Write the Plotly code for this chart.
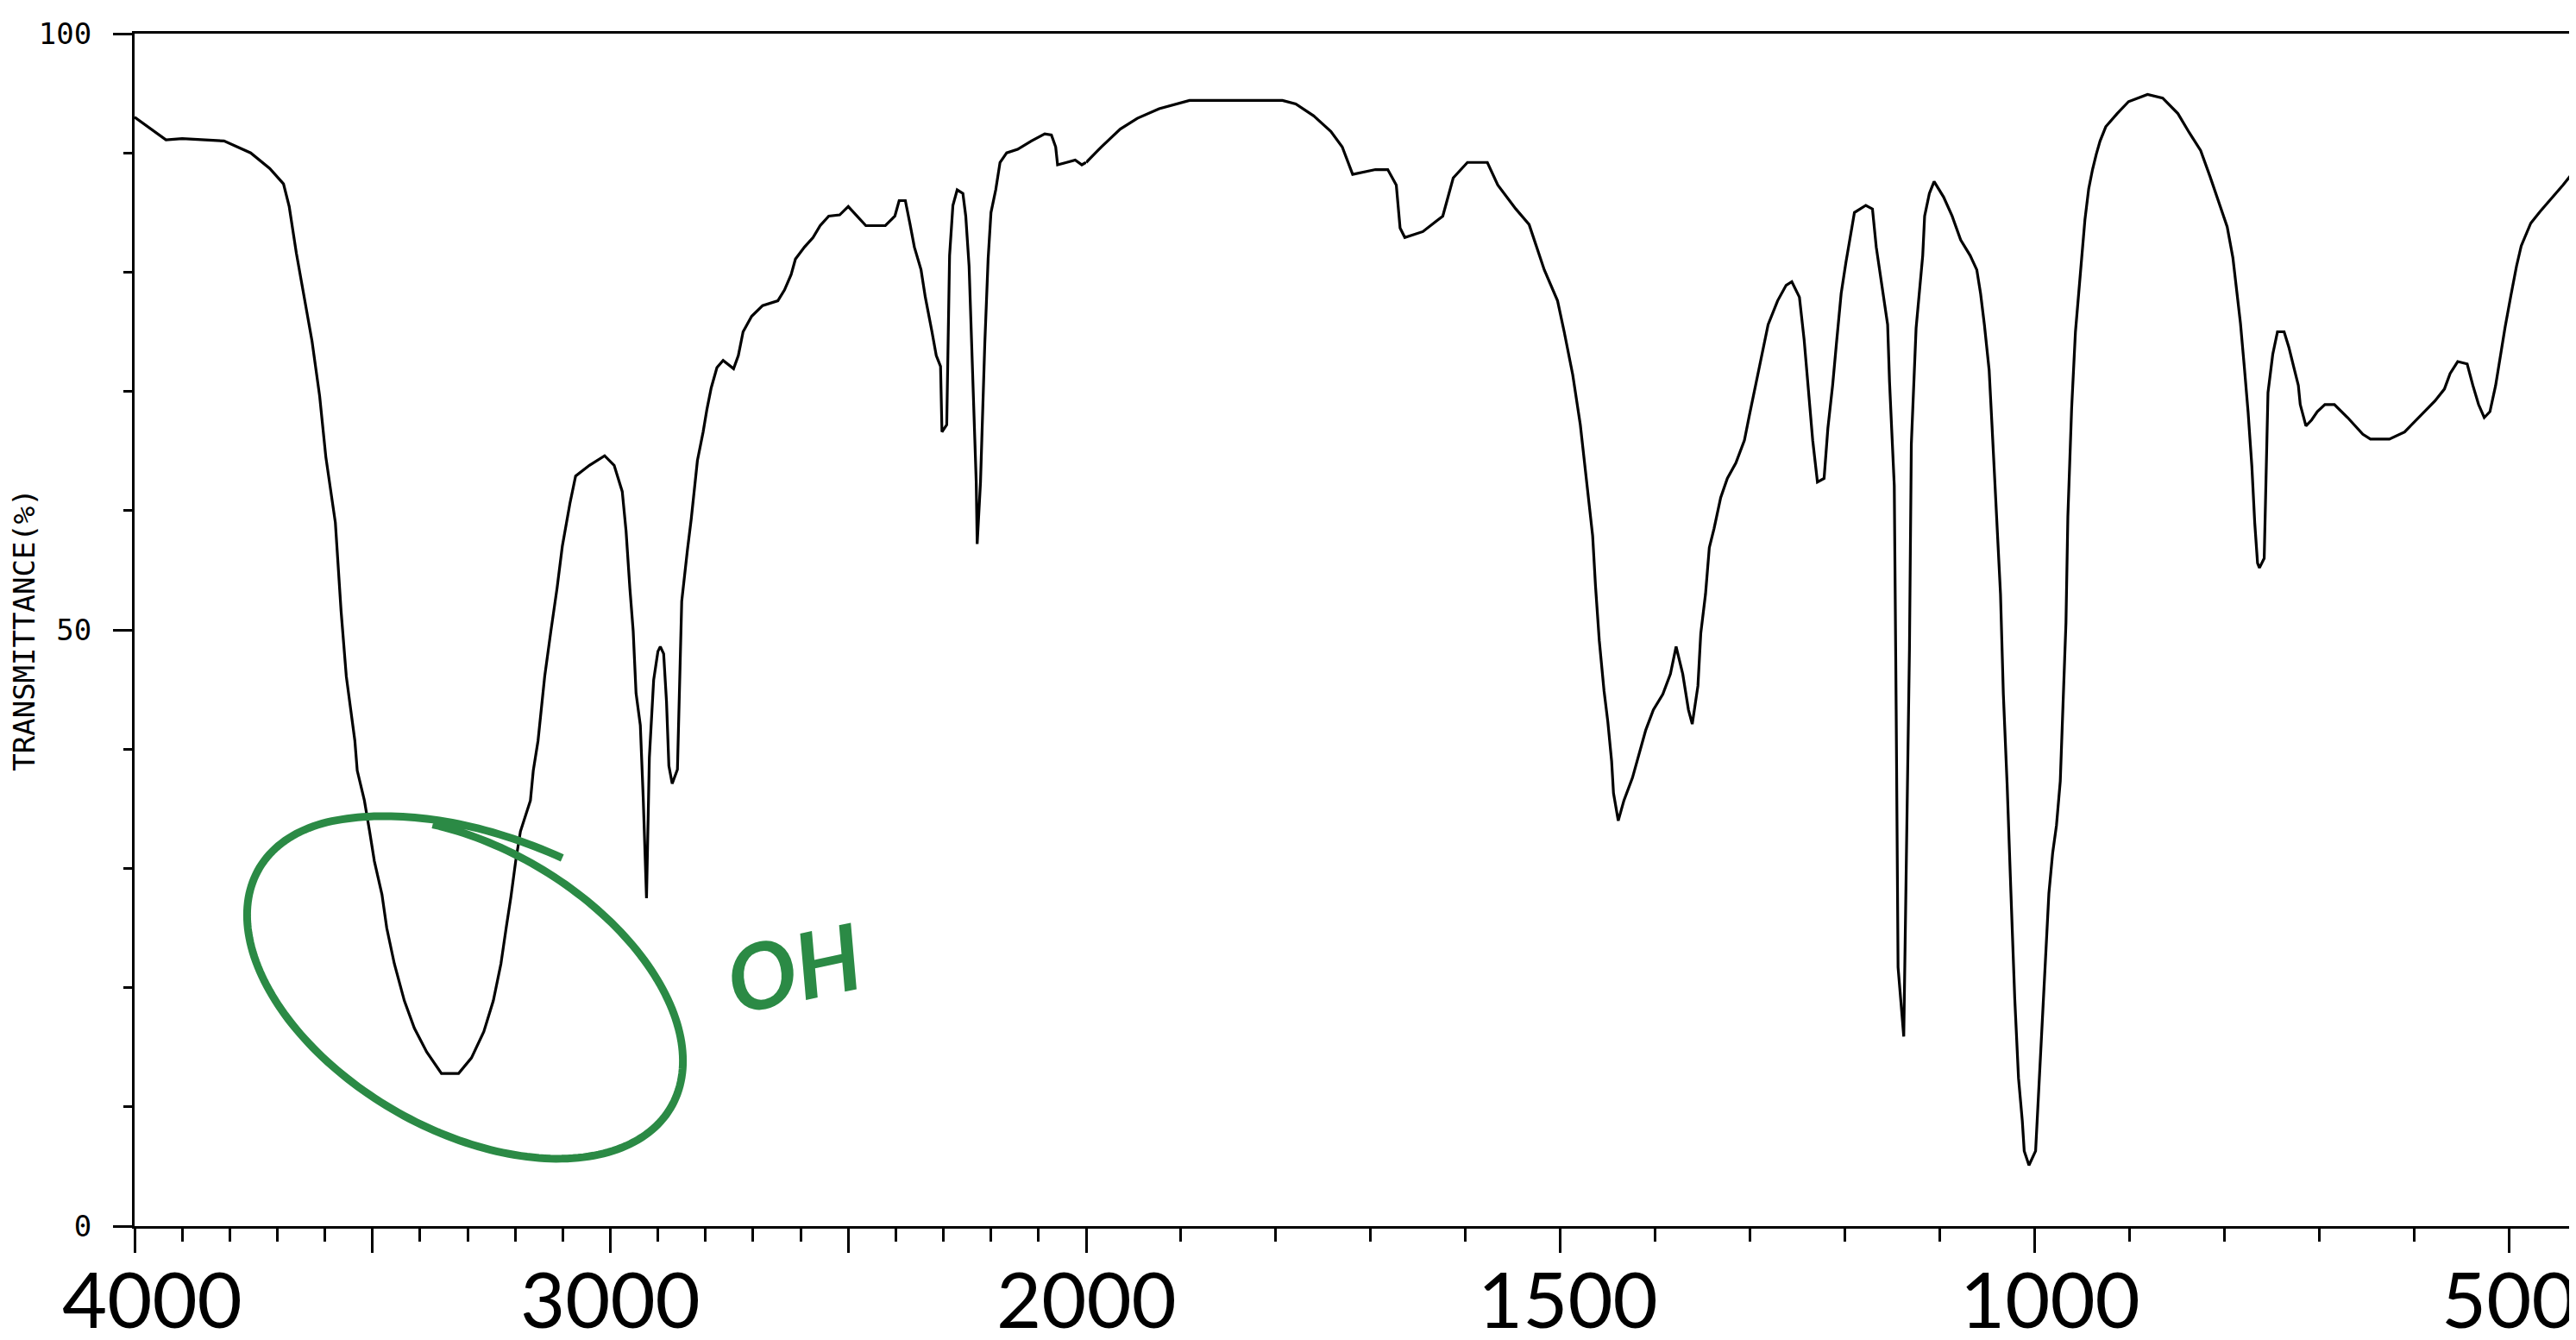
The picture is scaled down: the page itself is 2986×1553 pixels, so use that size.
import numpy as np
import plotly.graph_objects as go

# ---------------- data ----------------
wavenumber = [
    4000, 3934, 3900, 3812, 3756, 3716, 3687, 3675, 3660, 3644, 3627, 3611, 3598, 3578, 3566, 3555,
    3537, 3532, 3517, 3506, 3496, 3480, 3470, 3454, 3433, 3412, 3386, 3355, 3319, 3292, 3266, 3246,
    3230, 3219, 3209, 3199, 3189, 3168, 3162, 3152, 3138, 3125, 3112, 3101, 3085, 3073, 3044, 3012,
    2992, 2975, 2967, 2959, 2952, 2946, 2937, 2931, 2924, 2918, 2909, 2900, 2895, 2888, 2882, 2877,
    2870, 2859, 2855, 2850, 2838, 2830, 2817, 2805, 2797, 2788, 2776, 2763, 2741, 2731, 2721, 2703,
    2680, 2648, 2634, 2620, 2611, 2592, 2574, 2559, 2541, 2518, 2500, 2463, 2422, 2402, 2393, 2380,
    2370, 2361, 2347, 2338, 2324, 2315, 2306, 2303, 2293, 2290, 2287, 2280, 2271, 2259, 2253, 2246,
    2239, 2231, 2229, 2222, 2213, 2206, 2200, 2190, 2181, 2167, 2144, 2115, 2087, 2073, 2064, 2060,
    2041, 2023, 2009, 2000, 1984, 1964, 1946, 1923, 1891, 1853, 1793, 1779, 1760, 1742, 1730, 1719,
    1695, 1682, 1673, 1669, 1664, 1645, 1624, 1613, 1598, 1577, 1566, 1547, 1533, 1517, 1503, 1496,
    1487, 1479, 1475, 1470, 1466, 1463, 1459, 1454, 1450, 1446, 1444, 1439, 1433, 1424, 1416, 1410,
    1402, 1392, 1384, 1378, 1371, 1365, 1361, 1355, 1352, 1347, 1343, 1338, 1331, 1324, 1315, 1306,
    1301, 1294, 1288, 1281, 1271, 1262, 1256, 1248, 1243, 1239, 1234, 1229, 1222, 1218, 1213, 1209,
    1204, 1199, 1195, 1190, 1178, 1171, 1167, 1160, 1155, 1153, 1148, 1146, 1144, 1138, 1136, 1132,
    1130, 1125, 1118, 1116, 1111, 1106, 1096, 1087, 1078, 1068, 1061, 1057, 1053, 1048, 1045, 1041,
    1036, 1033, 1029, 1025, 1021, 1017, 1013, 1011, 1006, 999, 997, 993, 989, 985, 981, 977,
    973, 971, 967, 965, 961, 957, 951, 947, 943, 939, 935, 931, 925, 913, 901, 881,
    865, 849, 837, 825, 815, 805, 797, 791, 787, 783, 779, 775, 771, 768, 765, 763,
    758, 756, 754, 749, 744, 737, 732, 727, 722, 720, 714, 708, 702, 694, 684, 670,
    654, 646, 626, 610, 594, 578, 568, 562, 554, 544, 538, 532, 526, 520, 514, 510,
    504, 498, 492, 487, 477, 467, 455, 443, 430, 422,
]
transmittance = [
    93.0, 91.1, 91.2, 91.0, 90.0, 88.7, 87.4, 85.5, 81.6, 78.1, 74.2, 69.6, 64.5, 59.0, 51.6, 46.1,
    40.7, 38.2, 35.7, 33.1, 30.6, 27.8, 25.0, 22.0, 18.9, 16.6, 14.6, 12.8, 12.8, 14.1, 16.3, 18.9,
    22.0, 25.0, 27.6, 30.6, 33.1, 35.7, 38.2, 40.7, 46.1, 49.9, 53.5, 57.0, 60.6, 62.9, 63.8, 64.6,
    63.8, 61.6, 58.3, 53.5, 49.9, 44.7, 42.0, 36.0, 27.5, 39.3, 45.8, 48.2, 48.6, 48.0, 44.0, 38.6,
    37.1, 38.3, 45.1, 52.4, 56.7, 59.3, 64.2, 66.6, 68.5, 70.3, 72.0, 72.6, 71.9, 73.0, 75.0, 76.3,
    77.2, 77.6, 78.5, 79.8, 81.1, 82.1, 82.9, 83.9, 84.7, 84.8, 85.5, 83.9, 83.9, 84.7, 86.0, 86.0,
    84.0, 82.1, 80.2, 77.9, 75.0, 73.0, 72.1, 66.6, 67.2, 75.0, 81.4, 85.6, 86.9, 86.6, 84.7, 80.5,
    71.4, 62.4, 57.2, 62.4, 74.0, 81.1, 85.0, 86.9, 89.2, 90.0, 90.3, 91.0, 91.6, 91.5, 90.5, 89.0,
    89.2, 89.4, 89.0, 89.2, 90.5, 92.0, 92.9, 93.7, 94.4, 94.4, 94.4, 94.1, 93.1, 91.8, 90.5, 88.2,
    88.6, 88.6, 87.3, 83.7, 82.9, 83.4, 84.7, 87.9, 89.2, 89.2, 87.3, 85.3, 84.0, 80.2, 77.6, 75.0,
    71.4, 67.2, 64.3, 61.1, 57.9, 53.7, 49.1, 44.9, 42.3, 39.0, 36.3, 34.0, 35.7, 37.6, 40.0, 41.6,
    43.3, 44.6, 46.3, 48.6, 46.3, 43.3, 42.1, 45.3, 49.7, 53.0, 56.9, 58.5, 61.1, 62.7, 64.0, 65.9,
    67.9, 70.5, 73.0, 75.6, 77.6, 78.9, 79.2, 77.9, 74.3, 70.8, 65.9, 62.4, 62.7, 66.9, 70.5, 74.0,
    78.2, 80.8, 82.7, 85.0, 85.6, 85.3, 82.1, 78.5, 75.6, 70.8, 62.1, 43.3, 21.7, 15.9, 27.1, 48.3,
    65.6, 75.3, 81.4, 84.7, 86.6, 87.6, 86.3, 84.7, 82.7, 81.4, 80.2, 78.2, 75.6, 71.8, 67.2, 61.1,
    53.0, 44.6, 37.0, 27.9, 19.1, 12.4, 8.8, 6.3, 5.1, 6.3, 9.4, 15.8, 22.7, 27.9, 31.3, 33.6,
    37.3, 42.3, 50.6, 59.5, 68.6, 75.0, 80.5, 84.4, 87.0, 88.6, 89.9, 91.0, 92.2, 93.3, 94.3, 94.9,
    94.6, 93.3, 91.7, 90.2, 88.0, 85.7, 83.8, 81.2, 78.6, 75.7, 72.1, 68.3, 63.7, 59.0, 55.6, 55.2,
    56.0, 62.4, 69.9, 73.1, 75.0, 75.0, 73.7, 72.1, 70.5, 68.9, 67.1, 67.6, 68.3, 68.9, 68.9, 67.8,
    66.4, 66.0, 66.0, 66.6, 67.9, 69.2, 70.2, 71.5, 72.5, 72.3, 70.5, 68.9, 67.8, 68.3, 70.5, 72.5,
    75.4, 78.0, 80.5, 82.2, 84.1, 85.1, 86.2, 87.3, 88.6, 89.6,
]

# axis ranges / ticks (the chart changes scale at 2000 cm-1)
high_range = [4000, 2000]
low_range = [2000, 422]
high_major = [4000, 3500, 3000, 2500, 2000]
low_major = [2000, 1500, 1000, 500]
high_label_vals = [4000, 3000, 2000]
low_label_vals = [1500, 1000, 500]
y_major = [0, 50, 100]
y_labels = ["0", "50", "100"]
y_title = "TRANSMITTANCE(%)"
note_text = "OH"

# style: small horizontal nudges of the big hand-placed labels (pixels)
label_nudge = {4000: 20, 3000: 0, 2000: 0, 1500: 9, 1000: 18, 500: 0}

# ---------------- figure ----------------
W, H = 2986, 1553
ML, MR, MT, MB = 148, 0, 31, 140
PW, PH = W - ML - MR, H - MT - MB
split = (1251 - ML) / PW

wn = np.array(wavenumber, dtype=float)
tr = np.array(transmittance, dtype=float)
hi = wn >= 2000
lo = wn <= 2000

line_style = dict(color="black", width=3.2)
fig = go.Figure()
fig.add_trace(go.Scatter(x=wn[hi], y=tr[hi], mode="lines", line=line_style,
                         xaxis="x", yaxis="y", showlegend=False, hoverinfo="x+y"))
fig.add_trace(go.Scatter(x=wn[lo], y=tr[lo], mode="lines", line=line_style,
                         xaxis="x2", yaxis="y", showlegend=False, hoverinfo="x+y"))

common_x = dict(
    showline=True, linecolor="black", linewidth=3, mirror=True, automargin=False,
    ticks="outside", ticklen=28, tickwidth=3, tickcolor="black",
    showgrid=False, zeroline=False, showticklabels=False,
    minor=dict(ticks="outside", ticklen=15, tickwidth=3, tickcolor="black",
               dtick=100, tick0=0, showgrid=False),
)
pix_font = dict(family="DejaVu Sans Mono", size=34, color="black")

fig.update_layout(
    width=W, height=H,
    margin=dict(l=ML, r=MR, t=MT, b=MB, pad=0, autoexpand=False),
    paper_bgcolor="white", plot_bgcolor="white",
    xaxis=dict(domain=[0, split], range=high_range, tickmode="array",
               tickvals=high_major, anchor="y", **common_x),
    xaxis2=dict(domain=[split, 1], range=low_range, tickmode="array",
                tickvals=low_major, anchor="y", **common_x),
    yaxis=dict(range=[0, 100], tickmode="array", tickvals=y_major, ticktext=y_labels,
               showline=True, linecolor="black", linewidth=3, automargin=False,
               ticks="outside", ticklen=22, tickwidth=3, tickcolor="black",
               ticklabelstandoff=18, tickfont=pix_font,
               showgrid=False, zeroline=False,
               minor=dict(ticks="outside", ticklen=10, tickwidth=3, tickcolor="black",
                          dtick=10, tick0=0, showgrid=False),
               title=dict(text=y_title, font=pix_font, standoff=0)),
)

# large wavenumber labels under the axis
big_font = dict(family="Lato", size=90, color="black")
label_y = -(1496 - (MT + PH)) / PH
for v in high_label_vals:
    fig.add_annotation(text=str(v), x=v, xref="x", y=label_y, yref="paper",
                       xanchor="center", yanchor="middle", xshift=label_nudge[v],
                       showarrow=False, font=big_font)
for v in low_label_vals:
    fig.add_annotation(text=str(v), x=v, xref="x2", y=label_y, yref="paper",
                       xanchor="center", yanchor="middle", xshift=label_nudge[v],
                       showarrow=False, font=big_font)

# ---------------- hand-drawn green annotation ----------------
green = "#2b8a45"
cx, cy, ea, eb, rot = 531, 1137, 283, 168, np.deg2rad(30)
t0 = -2.05
t1 = t0 + 2 * np.pi + 0.55
ts = np.linspace(t0, t1, 240)
s = (ts - t0) / (t1 - t0)
k = 0.975 + 0.14 * np.clip((s - 0.85) / 0.15, 0, 1) ** 2
px = cx + k * (ea * np.cos(ts) * np.cos(rot) - eb * np.sin(ts) * np.sin(rot))
py = cy + k * (ea * np.cos(ts) * np.sin(rot) + eb * np.sin(ts) * np.cos(rot))
xp = (px - ML) / PW
yp = (MT + PH - py) / PH
path = "M " + " L ".join(f"{a:.5f},{b:.5f}" for a, b in zip(xp, yp))
fig.add_shape(type="path", path=path, xref="paper", yref="paper",
              line=dict(color=green, width=9), layer="above")

fig.add_annotation(text=note_text, x=(912 - ML) / PW, y=(MT + PH - 1112) / PH,
                   xref="paper", yref="paper", xanchor="center", yanchor="middle",
                   showarrow=False, textangle=-12,
                   font=dict(family="Lato", size=106, color=green, weight="bold", style="italic"))

fig.write_html("out.html")
